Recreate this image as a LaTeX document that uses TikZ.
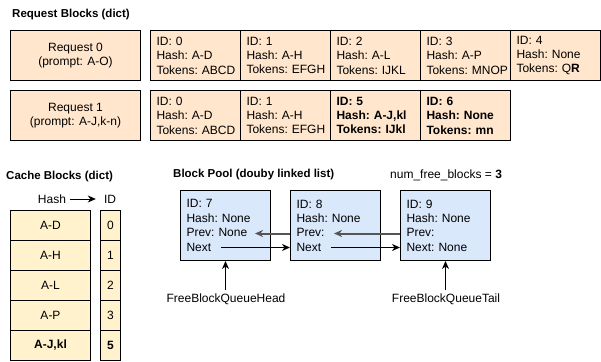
\documentclass[tikz,border=0pt]{standalone}
\usepackage{fontspec}
\setmainfont{Liberation Sans}
\usetikzlibrary{arrows.meta,calc}
\definecolor{reqfill}{HTML}{FFE6CC}
\definecolor{cachefill}{HTML}{FFF2CC}
\definecolor{poolfill}{HTML}{DAE8FC}
\definecolor{prevgray}{HTML}{555555}
\begin{document}
\begin{tikzpicture}[x=1pt,y=-1pt,
  every node/.style={font=\fontsize{12}{14.4}\selectfont},
  title/.style={anchor=west, inner sep=0pt, font=\fontsize{11.5}{14}\selectfont\bfseries},
  reqbox/.style={draw=black, line width=1pt, fill=reqfill, anchor=north west, minimum width=130pt, minimum height=50pt, inner sep=0pt, align=center},
  cell/.style={draw=black, line width=1pt, fill=reqfill, anchor=north west, minimum width=90pt, minimum height=50pt, text width=78pt, inner xsep=6pt, inner ysep=0pt, align=left},
  hashcell/.style={draw=black, line width=1pt, fill=cachefill, anchor=north west, minimum width=80pt, minimum height=30pt, inner sep=0pt, align=center},
  idcell/.style={draw=black, line width=1pt, fill=cachefill, anchor=north west, minimum width=20pt, minimum height=30pt, inner sep=0pt, align=center},
  poolbox/.style={draw=black, line width=1pt, fill=poolfill, anchor=north west, minimum width=90pt, minimum height=70pt, text width=78pt, inner xsep=6pt, inner ysep=0pt, align=left},
  arr/.style={draw=black, line width=1pt, -{Stealth[length=8pt,width=7pt,inset=2.5pt]}},
  grayarr/.style={draw=prevgray, line width=2pt, -{Stealth[length=8pt,width=7pt,inset=2.5pt]}},
  lbl/.style={inner sep=0pt}
]
\useasboundingbox (0,0) rectangle (601,361);

% Request blocks
\node[title] (t1) at (12,15) {Request Blocks (dict)};
\node[reqbox] (r0) at (10,30) {Request 0\\(prompt: A-O)};
\node[cell] (a0) at (150,30) {ID:~0\\Hash:~A-D\\Tokens:~ABCD};
\node[cell] (a1) at (240,30) {ID:~1\\Hash:~A-H\\Tokens:~EFGH};
\node[cell] (a2) at (330,30) {ID:~2\\Hash:~A-L\\Tokens:~IJKL};
\node[cell] (a3) at (420,30) {ID:~3\\Hash:~A-P\\Tokens:~MNOP};
\node[cell] (a4) at (510,30) {ID:~4\\Hash:~None\\Tokens:~Q\textbf{R}};

\node[reqbox] (r1) at (10,90) {Request 1\\(prompt: A-J,k-n)};
\node[cell] (b0) at (150,90) {ID:~0\\Hash:~A-D\\Tokens:~ABCD};
\node[cell] (b1) at (240,90) {ID:~1\\Hash:~A-H\\Tokens:~EFGH};
\node[cell, font=\fontsize{12}{14.4}\selectfont\bfseries] (b2) at (330,90) {ID:~5\\Hash:~A-J,kl\\Tokens:~IJkl};
\node[cell, font=\fontsize{12}{14.4}\selectfont\bfseries] (b3) at (420,90) {ID:~6\\Hash:~None\\Tokens:~mn};

% Cache blocks
\node[title] (t2) at (6,177) {Cache Blocks (dict)};
\node[lbl] (hh) at (52,199) {Hash};
\node[lbl] (hi) at (110,199) {ID};
\draw[arr] ($(hh.east)+(4,0)$) coordinate (hs) -- ($(hi.west)+(-8,0)$) coordinate (he);
\node[hashcell] (h1) at (10,210) {A-D};
\node[hashcell] (h2) at (10,240) {A-H};
\node[hashcell] (h3) at (10,270) {A-L};
\node[hashcell] (h4) at (10,300) {A-P};
\node[hashcell, font=\fontsize{12}{14.4}\selectfont\bfseries] (h5) at (10,330) {A-J,kl};
\node[idcell] (i1) at (100,210) {0};
\node[idcell] (i2) at (100,240) {1};
\node[idcell] (i3) at (100,270) {2};
\node[idcell] (i4) at (100,300) {3};
\node[idcell, font=\fontsize{12}{14.4}\selectfont\bfseries] (i5) at (100,330) {5};

% Block pool
\node[title] (t3) at (173,175) {Block Pool (douby linked list)};
\node[anchor=west, inner sep=0pt] (nf) at (390,175) {num\_free\_blocks = \textbf{3}};
\node[poolbox] (p7) at (180,190) {ID:~7\\Hash:~None\\Prev:~None\\Next};
\node[poolbox] (p8) at (290,190) {ID:~8\\Hash:~None\\Prev:\\Next};
\node[poolbox] (p9) at (400,190) {ID:~9\\Hash:~None\\Prev:\\Next:~None};

\coordinate (p7prev) at (255,233.5);
\coordinate (p8prev) at (334,233.5);
\coordinate (p7next) at (221,247.5);
\coordinate (p8next) at (331,247.5);
\draw[grayarr] (p8.west |- p7prev) -- (p7prev);
\draw[grayarr] (p9.west |- p8prev) -- (p8prev);
\draw[arr] (p7next) -- (p7next -| p8.west);
\draw[arr] (p8next) -- (p8next -| p9.west);

\node[lbl] (head) at (226,299) {FreeBlockQueueHead};
\node[lbl] (tail) at (446,299) {FreeBlockQueueTail};
\draw[arr] ($(p7.south |- head.north)+(0,-3)$) -- (p7.south);
\draw[arr] ($(p9.south |- tail.north)+(0,-3)$) -- (p9.south);
\end{tikzpicture}
\end{document}
